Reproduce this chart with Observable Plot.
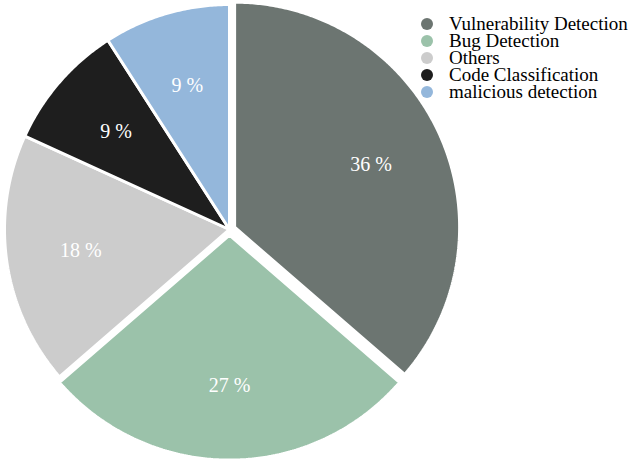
<!DOCTYPE html>
<html>
<head>
<meta charset="utf-8">
<script src="https://cdn.jsdelivr.net/npm/d3@7"></script>
<script src="https://cdn.jsdelivr.net/npm/@observablehq/plot@0.6"></script>
<style>
  html, body { margin: 0; padding: 0; background: #fff; }
  #wrap { position: relative; width: 641px; height: 460px; overflow: hidden; }
  #wrap svg { position: absolute; left: 0; top: 0; }
  #legend { position: absolute; left: 421px; top: 15px; font-family: "Liberation Serif", "Times New Roman", serif; font-size: 19px; color: #000; }
  .row { display: flex; align-items: center; height: 17px; line-height: 17px; white-space: nowrap; }
  .sw { width: 12px; height: 12px; border-radius: 50%; margin-right: 16px; flex: none; }
</style>
</head>
<body>
<div id="wrap"><div id="legend"></div></div>
<script>
const categories = ["Vulnerability Detection", "Bug Detection", "Others", "Code Classification", "malicious detection"];
const counts = [4, 3, 2, 1, 1];
const colors = ["#6c7571", "#9bc2aa", "#cccccc", "#1e1e1e", "#94b7db"];
const explode = [0.025, 0.025, 0, 0, 0];

const W = 641, H = 460;
const cx = 229, cy = 229, rPx = 225;   // layout
const labelDist = 0.667;

const total = d3.sum(counts);
const arcs = d3.pie().sort(null)(counts);

const slicePts = [];
const labels = [];
arcs.forEach((a, i) => {
  const mid = (a.startAngle + a.endAngle) / 2;
  const ox = explode[i] * Math.sin(mid), oy = explode[i] * Math.cos(mid);
  const key = categories[i];
  slicePts.push({key, u: ox, v: oy});
  const n = Math.max(2, Math.ceil((a.endAngle - a.startAngle) / (Math.PI / 360)));
  for (let k = 0; k <= n; k++) {
    const t = a.startAngle + (a.endAngle - a.startAngle) * k / n;
    slicePts.push({key, u: ox + Math.sin(t), v: oy + Math.cos(t)});
  }
  slicePts.push({key, u: ox, v: oy});
  labels.push({
    key,
    text: `${Math.round(100 * counts[i] / total)} %`,
    u: ox + labelDist * Math.sin(mid),
    v: oy + labelDist * Math.cos(mid)
  });
});

const chart = Plot.plot({
  width: W,
  height: H,
  margin: 0,
  x: {domain: [-cx / rPx, (W - cx) / rPx], axis: null},
  y: {domain: [(cy - H) / rPx, cy / rPx], axis: null},
  color: {domain: categories, range: colors},
  style: {background: "white"},
  marks: [
    Plot.line(slicePts, {x: "u", y: "v", z: "key", fill: "key", stroke: "white", strokeWidth: 3, strokeLinejoin: "miter", curve: "linear"}),
    Plot.text(labels, {x: "u", y: "v", text: "text", fill: "white", fontSize: 20, fontFamily: "Liberation Serif, Times New Roman, serif", textAnchor: "middle"})
  ]
});
document.getElementById("wrap").prepend(chart);

const legend = document.getElementById("legend");
categories.forEach((c, i) => {
  const row = document.createElement("div");
  row.className = "row";
  const sw = document.createElement("span");
  sw.className = "sw";
  sw.style.background = colors[i];
  const t = document.createElement("span");
  t.textContent = c;
  row.append(sw, t);
  legend.append(row);
});
</script>
</body>
</html>
